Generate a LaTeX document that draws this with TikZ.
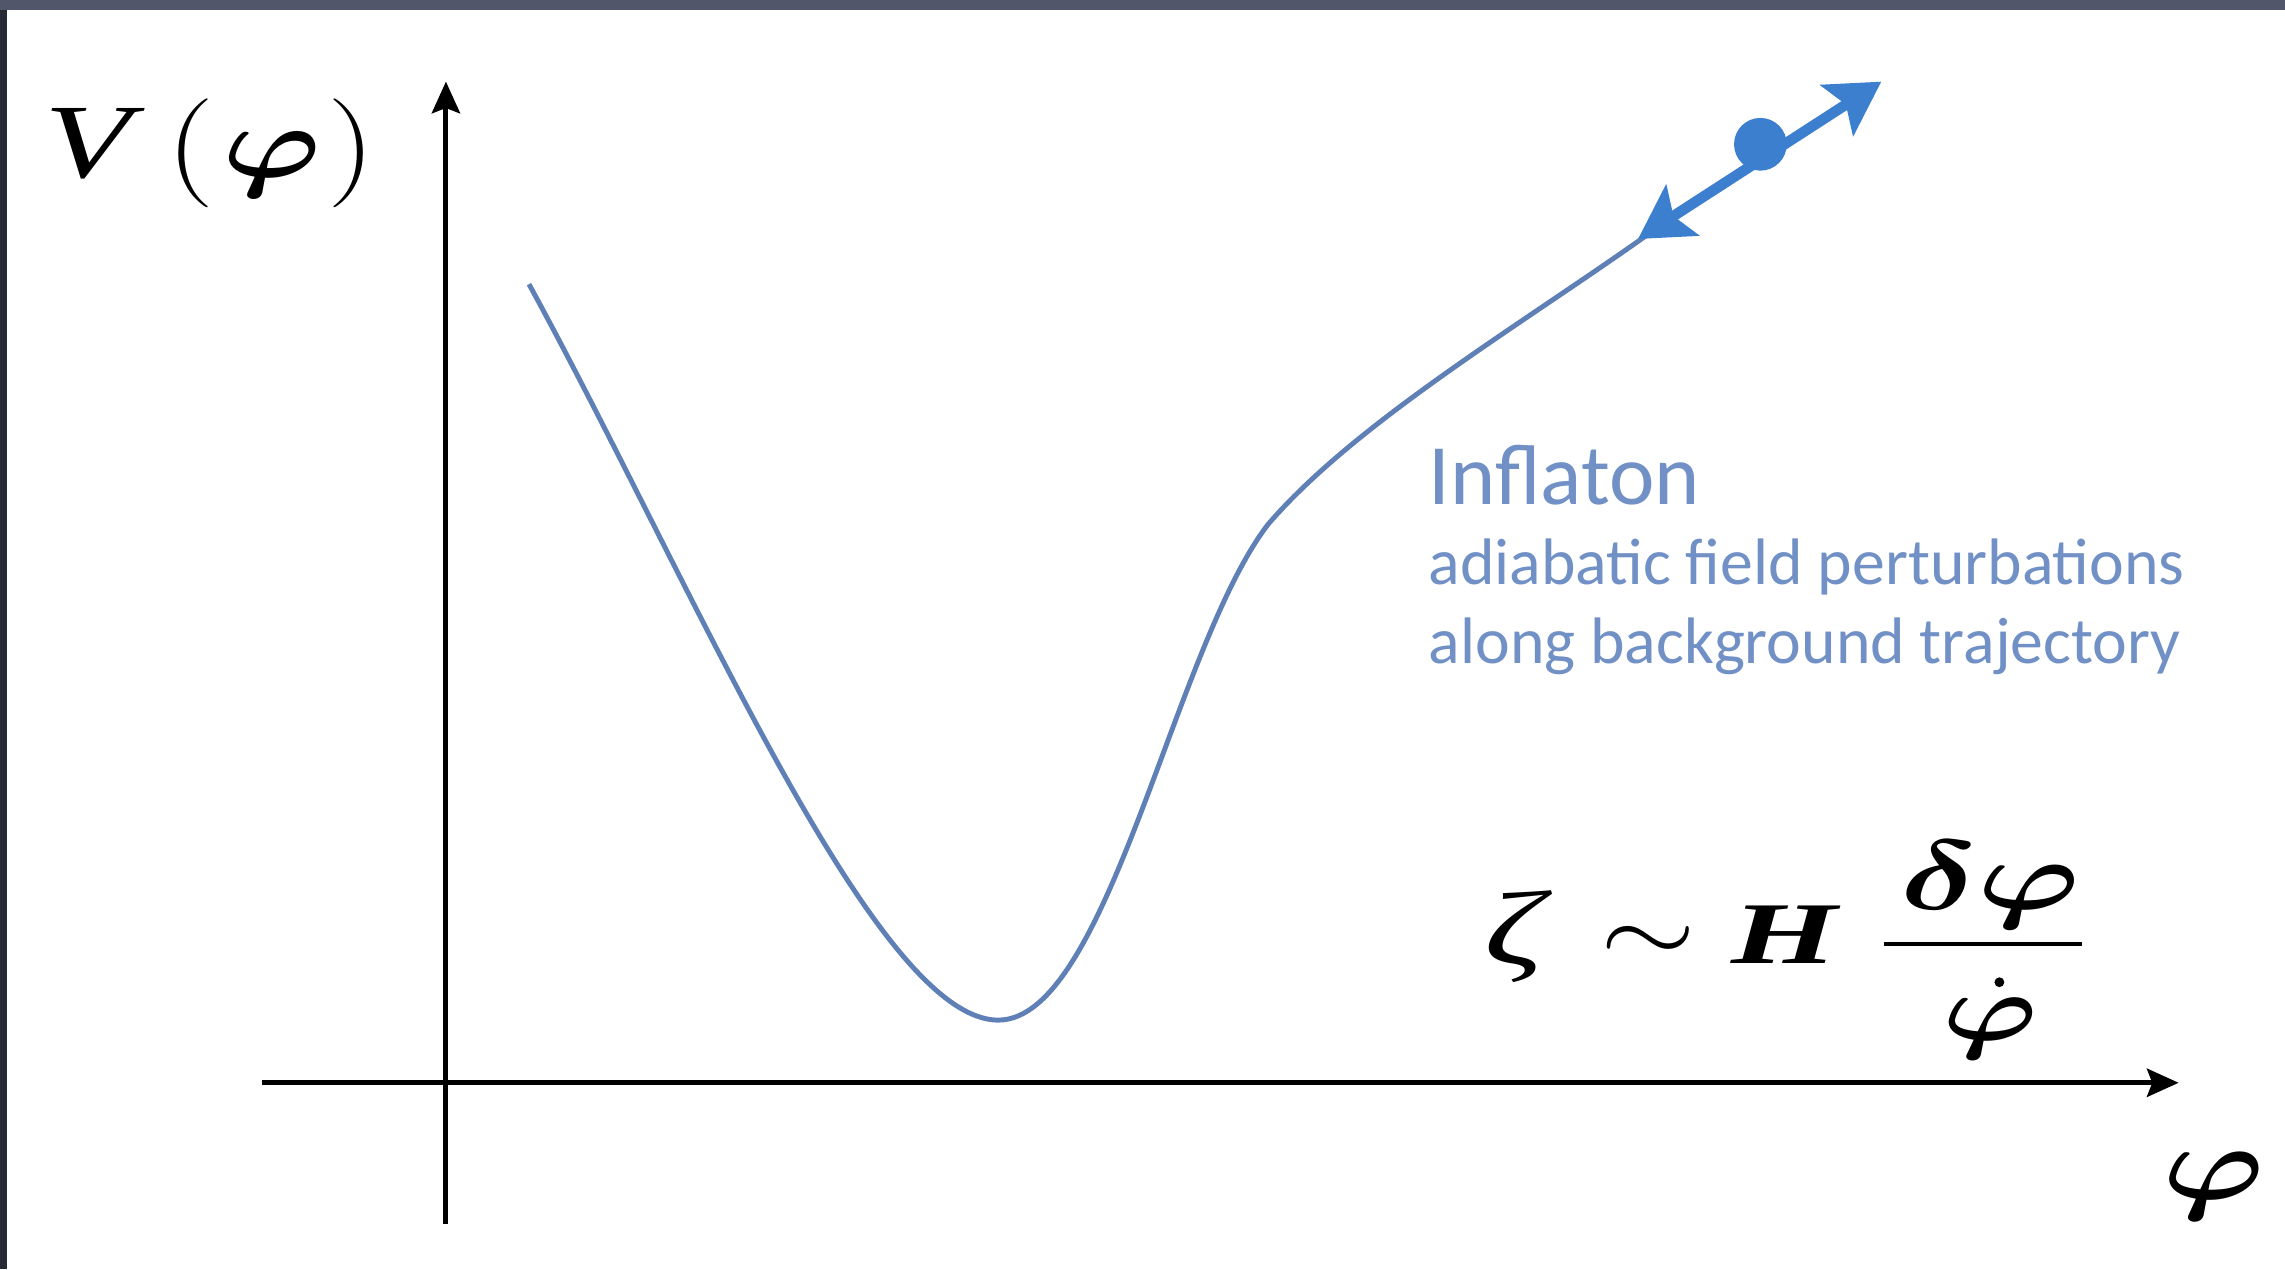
\RequirePackage{fix-cm}
\documentclass[tikz,border=0pt]{standalone}
\usepackage{graphicx}
\usepackage{fontspec}
\setmainfont{Liberation Serif}
\newfontfamily\carl{Carlito}
\usetikzlibrary{arrows.meta}
\definecolor{curveblue}{HTML}{5F80B6}
\definecolor{textblue}{HTML}{7090C6}
\definecolor{dotblue}{HTML}{3C7FCF}
\definecolor{bordertop}{HTML}{51566A}
\definecolor{borderleft}{HTML}{272A35}
\tikzset{
  axisline/.style={line width=1.4pt, black, -{Stealth[length=9pt,width=8pt,inset=1.5pt]}},
  potential/.style={curveblue, line width=1.4pt},
  pert/.style={dotblue, line width=3pt, {Stealth[length=15pt,width=17pt,inset=3pt]}-{Stealth[length=15pt,width=17pt,inset=3pt]}},
  bluetext/.style={textblue, anchor=base west, inner sep=0pt},
  serif/.style={black, inner sep=0pt},
}
\begin{document}
\begin{tikzpicture}[x=0.014573cm,y=-0.014573cm]
\useasboundingbox (0,0) rectangle (1568,871);
\fill[borderleft] (0,0) rectangle (1568,871);
\fill[bordertop] (0,0) rectangle (1568,7);
\fill[white] (5,7) rectangle (1568,871);

% axes
\coordinate (xs) at (180,743);
\coordinate (xe) at (1495,743);
\coordinate (ys) at (306,840);
\coordinate (ye) at (306,56);
\draw[axisline] (xs) -- (xe);
\draw[axisline] (ys) -- (ye);

% potential
\coordinate (c0) at (363,195);
\coordinate (cmin) at (685,700);
\coordinate (cbend) at (870,360);
\coordinate (cend) at (1132,160);
\draw[potential] (c0) .. controls (475,400) and (600,700) .. (cmin)
  .. controls (760,700) and (805,445) .. (cbend)
  .. controls (930,290) and (1045,222) .. (cend);

% perturbation arrows and inflaton
\coordinate (alo) at (1124,164);
\coordinate (ahi) at (1291,56);
\draw[pert] (alo) -- (ahi);
\node[circle, fill=dotblue, minimum size=15pt, inner sep=0pt] (dot) at (1208,99) {};

% labels
\node[bluetext, font=\carl\fontsize{24.5}{28}\selectfont] (infl) at (980,346) {Inflaton};
\node[bluetext, font=\carl\fontsize{18.7}{22}\selectfont] (l1) at (980,401) {adiabatic field perturbations};
\node[bluetext, font=\carl\fontsize{18.7}{22}\selectfont] (l2) at (980,455) {along background trajectory};

% V(phi)
\node[serif, anchor=base west, font=\fontsize{30}{34}\selectfont] (vV) at (30,122) {\scalebox{1.35}[1]{\textit{V}}};
\node[serif, anchor=base west, font=\fontsize{31}{36}\selectfont] (vL) at (114,124) {\scalebox{1.25}[1]{$($}};
\node[serif, anchor=base west, font=\fontsize{29}{34}\selectfont] (vP) at (152,122) {\scalebox{1.3}[1]{\boldmath$\varphi$}};
\node[serif, anchor=base west, font=\fontsize{31}{36}\selectfont] (vR) at (224,124) {\scalebox{1.25}[1]{$)$}};

% axis label
\node[serif, anchor=base, font=\fontsize{30}{36}\selectfont] (philab) at (1519,823) {\scalebox{1.3}[1]{\boldmath$\varphi$}};

% formula
\node[serif, anchor=base west, font=\fontsize{30}{34}\selectfont] (zeta) at (1018,662) {\scalebox{1.4}[1]{\textit{ζ}}};
\node[serif, font=\fontsize{28}{32}\selectfont] (sim) at (1131,648) {\scalebox{1.25}[1]{$\sim$}};
\node[serif, anchor=base west, font=\fontsize{25}{30}\selectfont] (H) at (1188,661) {\scalebox{1.55}[1]{\textbf{\textit{H}}}};
\node[serif, anchor=base, font=\fontsize{28}{32}\selectfont] (num) at (1366,624) {\scalebox{1.4}[1]{\boldmath$\delta\varphi$}};
\coordinate (b0) at (1293,648);
\coordinate (b1) at (1429,648);
\draw[line width=1.2pt] (b0) -- (b1);
\node[serif, anchor=base, font=\fontsize{27}{32}\selectfont] (den) at (1366,714) {\scalebox{1.35}[1]{\boldmath$\varphi$}};
\coordinate (dotpos) at (1372,674);
\fill (dotpos) circle (1.4pt);
\end{tikzpicture}
\end{document}
